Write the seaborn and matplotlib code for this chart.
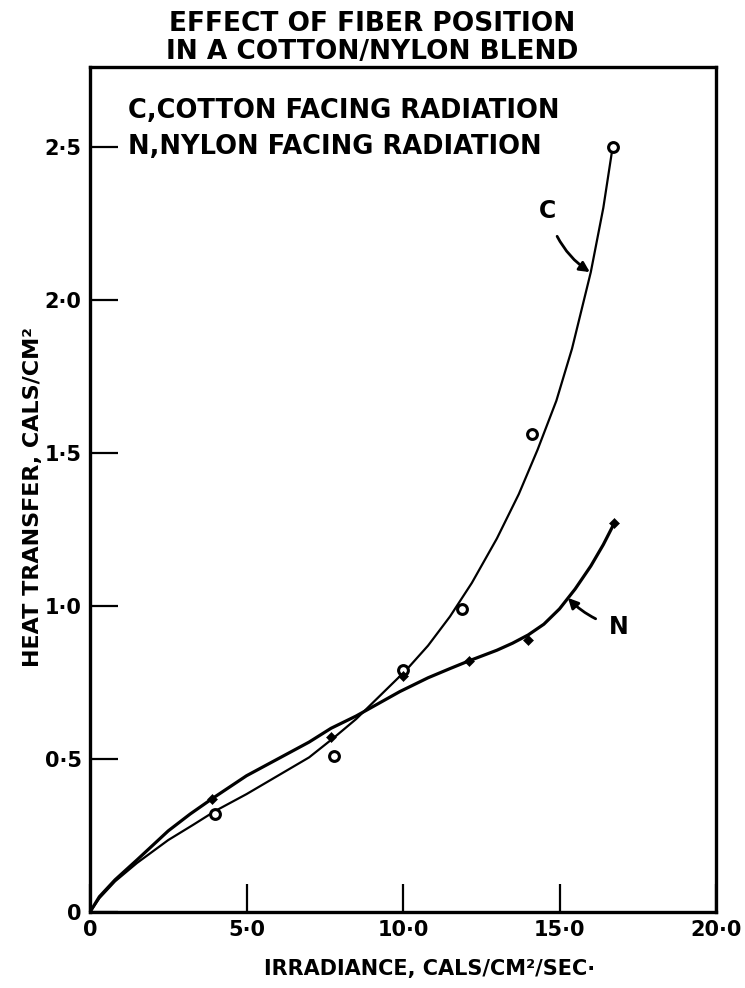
import numpy as np
import pandas as pd
import matplotlib
matplotlib.use("Agg")
import matplotlib.pyplot as plt
import seaborn as sns

# ---- data ----
c_pts_x = [4.0, 7.8, 10.0, 11.9, 14.12, 16.7]
c_pts_y = [0.32, 0.51, 0.79, 0.99, 1.56, 2.50]
n_pts_x = [3.9, 7.7, 10.0, 12.1, 14.0, 16.75]
n_pts_y = [0.37, 0.57, 0.77, 0.82, 0.89, 1.27]

# traced fitted curves
c_curve_x = [0.0, 0.3, 0.8, 1.5, 2.5, 3.3, 4.0, 5.0, 6.0, 7.0, 7.8, 8.5, 9.2, 10.1,
             10.8, 11.5, 12.2, 13.0, 13.7, 14.3, 14.9, 15.4, 16.0, 16.4, 16.7]
c_curve_y = [0.0, 0.045, 0.10, 0.16, 0.235, 0.285, 0.33, 0.385, 0.445, 0.505, 0.57, 0.63, 0.70, 0.79,
             0.87, 0.965, 1.075, 1.22, 1.365, 1.51, 1.67, 1.84, 2.09, 2.30, 2.50]
n_curve_x = [0.0, 0.3, 0.8, 1.5, 2.5, 3.2, 3.9, 5.0, 6.0, 7.0, 7.7, 8.5, 9.2, 9.9,
             10.8, 11.5, 12.1, 13.0, 13.5, 14.0, 14.5, 15.0, 15.5, 16.0, 16.4, 16.75]
n_curve_y = [0.0, 0.05, 0.105, 0.17, 0.265, 0.32, 0.37, 0.445, 0.50, 0.555, 0.60, 0.64, 0.68, 0.72,
             0.765, 0.795, 0.82, 0.855, 0.878, 0.905, 0.94, 0.99, 1.055, 1.13, 1.20, 1.27]

x_ticks = [0, 5, 10, 15, 20]
x_tick_labels = ["0", "5·0", "10·0", "15·0", "20·0"]
y_ticks = [0, 0.5, 1.0, 1.5, 2.0, 2.5]
y_tick_labels = ["0", "0·5", "1·0", "1·5", "2·0", "2·5"]

sns.set_style("ticks")
plt.rcParams["font.family"] = ["DejaVu Sans"]
plt.rcParams["font.weight"] = "bold"
plt.rcParams["text.color"] = "black"
plt.rcParams["axes.labelcolor"] = "black"
plt.rcParams["xtick.color"] = "black"
plt.rcParams["ytick.color"] = "black"

fig = plt.figure(figsize=(7.45, 9.88), dpi=100)
ax = fig.add_axes([90 / 745, 1 - 912 / 988, (716 - 90) / 745, (912 - 67) / 988])

c_curve = pd.DataFrame({"x": c_curve_x, "y": c_curve_y})
n_curve = pd.DataFrame({"x": n_curve_x, "y": n_curve_y})
sns.lineplot(data=c_curve, x="x", y="y", ax=ax, color="black", lw=1.6, sort=False)
sns.lineplot(data=n_curve, x="x", y="y", ax=ax, color="black", lw=2.3, sort=False)

c_pts = pd.DataFrame({"x": c_pts_x, "y": c_pts_y})
n_pts = pd.DataFrame({"x": n_pts_x, "y": n_pts_y})
sns.scatterplot(data=c_pts, x="x", y="y", ax=ax, marker="o", s=50,
                facecolor="white", edgecolor="black", linewidth=2.2, zorder=5)
sns.scatterplot(data=n_pts, x="x", y="y", ax=ax, marker="D", s=26,
                color="black", edgecolor="black", zorder=5)

ax.set_xlim(0, 20)
ax.set_ylim(0, 2.76)
ax.set_xticks(x_ticks)
ax.set_xticklabels(x_tick_labels, fontsize=15, fontweight="bold", color="black")
ax.set_yticks(y_ticks)
ax.set_yticklabels(y_tick_labels, fontsize=15, fontweight="bold", color="black")
ax.tick_params(direction="in", length=20, width=1.6, pad=6, colors="black")
for sp in ax.spines.values():
    sp.set_visible(True)
    sp.set_linewidth(2.4)
    sp.set_color("black")

ax.set_xlabel("IRRADIANCE, CALS/CM²/SEC·", fontsize=15, fontweight="bold", color="black")
ax.set_ylabel("HEAT TRANSFER, CALS/CM²", fontsize=16, fontweight="bold", color="black")
ax.xaxis.set_label_coords((430 - 90) / 626, -(959 - 912) / 845)
ax.yaxis.set_label_coords(-(90 - 43) / 626, (912 - 497) / 845)

fig.text(372 / 745, 1 - 24 / 988, "EFFECT OF FIBER POSITION", ha="center", va="center",
         fontsize=19, fontweight="bold", color="black")
fig.text(372 / 745, 1 - 52 / 988, "IN A COTTON/NYLON BLEND", ha="center", va="center",
         fontsize=19, fontweight="bold", color="black")

ax.text((128 - 90) / 626, (912 - 111) / 845, "C,COTTON FACING RADIATION", transform=ax.transAxes,
        ha="left", va="center", fontsize=18.5, fontweight="bold", color="black")
ax.text((128 - 90) / 626, (912 - 147) / 845, "N,NYLON FACING RADIATION", transform=ax.transAxes,
        ha="left", va="center", fontsize=18.5, fontweight="bold", color="black")

ax.annotate("C", xy=(15.97, 2.09), xytext=(14.63, 2.29), fontsize=17, fontweight="bold",
            ha="center", va="center", color="black",
            arrowprops=dict(arrowstyle="-|>", color="black", lw=2, shrinkA=8, shrinkB=0,
                            connectionstyle="arc3,rad=0.2", mutation_scale=15))
ax.annotate("N", xy=(15.27, 1.026), xytext=(16.9, 0.93), fontsize=17, fontweight="bold",
            ha="center", va="center", color="black",
            arrowprops=dict(arrowstyle="-|>", color="black", lw=2, shrinkA=8, shrinkB=0,
                            connectionstyle="arc3,rad=-0.15", mutation_scale=15))

fig.savefig("out.png", dpi=100, facecolor="white")
